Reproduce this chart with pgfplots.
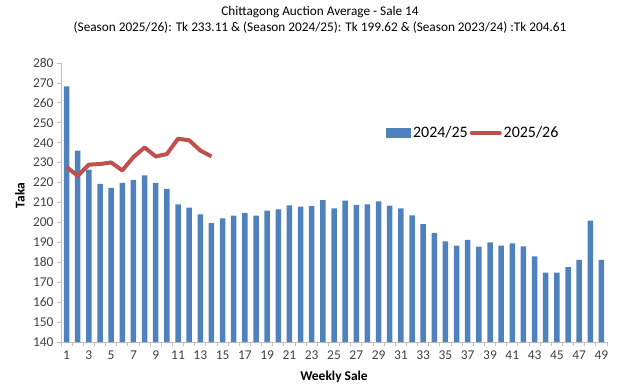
\documentclass[border=0pt]{standalone}
\usepackage{pgfplots}
\pgfplotsset{compat=1.18}
\usepackage{fontspec}
\setmainfont{Carlito}
\definecolor{barblue}{RGB}{79,129,189}
\definecolor{linered}{RGB}{192,80,77}
\definecolor{axgray}{RGB}{191,191,191}
\begin{document}
\begin{tikzpicture}[x=1bp,y=1bp]
\path[use as bounding box] (0,0) rectangle (642,391);
\node[font=\fontsize{13.3}{15}\selectfont] at (320,379) {Chittagong Auction Average - Sale 14};
\node[font=\fontsize{13.3}{15}\selectfont] at (320,363) {(Season 2025/26): Tk 233.11 \& (Season 2024/25): Tk 199.62 \& (Season 2023/24) :Tk 204.61};
\begin{axis}[at={(61bp,49bp)}, anchor=south west, width=546bp, height=279bp, scale only axis,
  xmin=0.5, xmax=49.5, ymin=140, ymax=280,
  axis x line*=bottom, axis y line*=left,
  axis line style={draw=axgray, line width=0.8bp},
  ytick={140,150,...,280},
  xtick={0.5,1.5,...,49.5}, xticklabels={},
  extra x ticks={1,3,...,49}, extra x tick style={major tick length=0pt},
  tick align=outside, major tick length=4bp, tick style={axgray, line width=0.8bp},
  ticklabel style={font=\fontsize{13.5}{13.5}\selectfont, color=black!75},
  xticklabel style={anchor=center, yshift=-13bp},
  /pgf/number format/assume math mode=true,
  ylabel={\textbf{Taka}}, xlabel={\textbf{Weekly Sale}},
  label style={font=\fontsize{13.5}{13.5}\selectfont},
  xlabel style={at={(axis description cs:0.5,0)}, anchor=center, yshift=-35bp},
  ylabel style={at={(axis description cs:0,0.5)}, anchor=center, xshift=7bp, yshift=41bp},
  legend style={at={(0.755,0.749)}, anchor=center, draw=none, fill=none, font=\fontsize{16}{16}\selectfont},
  legend columns=2,
  clip=false,
]
\addplot[ybar, bar width=5.5bp, fill=barblue, draw=none,
  legend image code/.code={\fill[barblue] (0bp,-5bp) rectangle (25bp,5bp);}] coordinates {
(1,268.3)(2,236.0)(3,226.5)(4,219.4)(5,217.3)(6,219.8)(7,221.4)(8,223.6)(9,219.8)(10,216.9)
(11,209.1)(12,207.4)(13,204.0)(14,199.62)(15,202.0)(16,203.4)(17,204.7)(18,203.4)(19,205.9)(20,206.5)
(21,208.5)(22,207.9)(23,208.3)(24,211.2)(25,207.1)(26,210.9)(27,208.7)(28,209.0)(29,210.6)(30,208.4)
(31,207.1)(32,203.5)(33,199.2)(34,194.7)(35,190.5)(36,188.3)(37,191.2)(38,187.8)(39,190.0)(40,188.3)
(41,189.5)(42,188.0)(43,183.0)(44,174.8)(45,174.8)(46,177.6)(47,181.2)(48,200.9)(49,181.2)
};
\addlegendentry{2024/25}
\addplot[linered, line width=4bp, line join=round,
  legend image code/.code={\draw[linered, line width=4bp, line cap=round] (0bp,0bp) -- (28bp,0bp);}] coordinates {
(1,227.8)(2,223.4)(3,229.0)(4,229.3)(5,230.1)(6,226.1)(7,232.8)(8,237.6)(9,233.1)(10,234.3)
(11,242.0)(12,241.2)(13,236.1)(14,233.11)
};
\addlegendentry{2025/26}
\end{axis}
\end{tikzpicture}
\end{document}
